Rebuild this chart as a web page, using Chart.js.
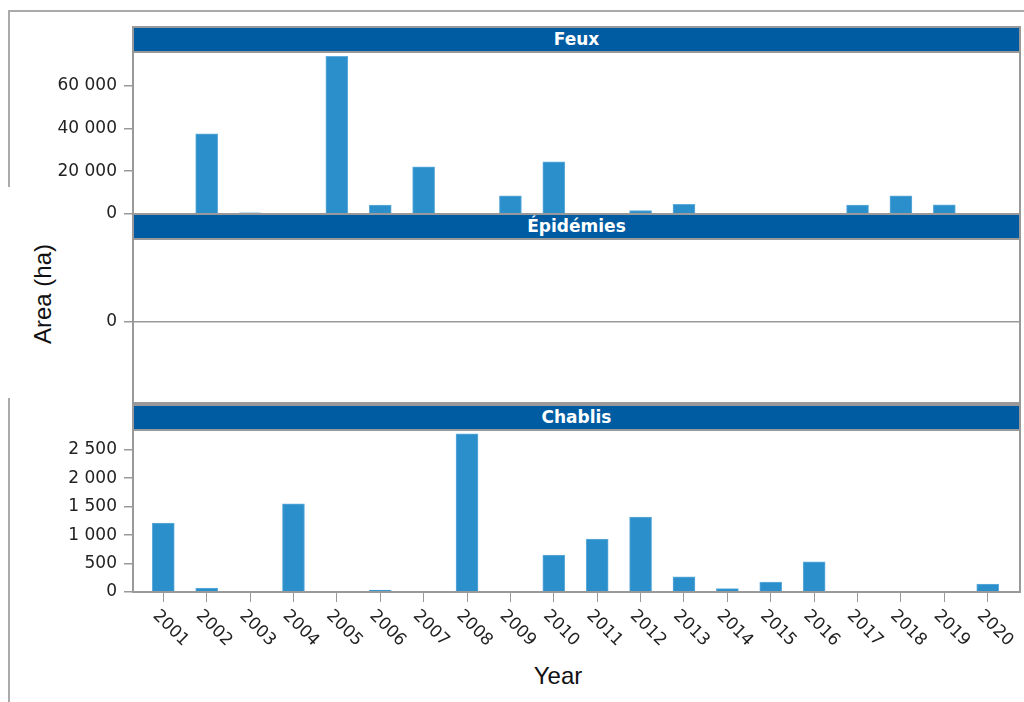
<!DOCTYPE html>
<html lang="fr">
<head>
<meta charset="utf-8">
<title>Area (ha) par année</title>
<script src="https://cdn.jsdelivr.net/npm/chart.js@4.4.1/dist/chart.umd.min.js"></script>
<style>
  body { margin: 0; background: #fff; }
  #wrap { position: relative; width: 1024px; height: 702px; overflow: hidden; font-family: "Liberation Sans", Arial, sans-serif; }
  canvas { position: absolute; left: 0; z-index: 1; }
  .frame { position: absolute; left: 132px; width: 889px; box-sizing: border-box; border: 2px solid #999; pointer-events: none; z-index: 2; }
  .frame .head { height: 23px; background: #005ca2; border-bottom: 2px solid #999; color: #fff;
    font: bold 17px "DejaVu Sans", sans-serif; text-align: center; line-height: 23px; }
  .line { position: absolute; background: #aaa; z-index: 0; }
  #ytitle { position: absolute; left: -17px; top: 279px; width: 120px; height: 30px; line-height: 30px;
    text-align: center; font-size: 24px; color: #111; transform: rotate(-90deg); }
  #xtitle { position: absolute; left: 458px; top: 664px; width: 200px; line-height: 24px;
    text-align: center; font-size: 24px; color: #111; }
</style>
</head>
<body>
<div id="wrap">
  <div class="line" style="left:8px; top:10px; width:1016px; height:1.5px;"></div>
  <div class="line" style="left:8px; top:10px; width:1.5px; height:177px;"></div>
  <div class="line" style="left:8px; top:398px; width:1.5px; height:304px;"></div>

  <canvas id="feuxChart" width="1024" height="198" style="top:34px"></canvas>
  <canvas id="epiChart" width="1024" height="198" style="top:223px"></canvas>
  <canvas id="chablisChart" width="1024" height="289" style="top:413px"></canvas>

  <div class="frame" style="top:26px; height:189px;"><div class="head">Feux</div></div>
  <div class="frame" style="top:213px; height:191px;"><div class="head">Épidémies</div></div>
  <div class="frame" style="top:404px; height:189px;"><div class="head">Chablis</div></div>

  <div id="ytitle">Area (ha)</div>
  <div id="xtitle">Year</div>
</div>
<script>
// data
const years = [2001, 2002, 2003, 2004, 2005, 2006, 2007, 2008, 2009, 2010,
               2011, 2012, 2013, 2014, 2015, 2016, 2017, 2018, 2019, 2020];
const feuxValues = [300, 37440, 600, 0, 73660, 4200, 22050, 0, 8530, 24380,
                    0, 1540, 4520, 0, 0, 0, 4200, 8530, 4340, 0];
const epidemiesValues = [0, 0, 0, 0, 0, 0, 0, 0, 0, 0,
                         0, 0, 0, 0, 0, 0, 0, 0, 0, 0];
const chablisValues = [1210, 70, 0, 1549, 0, 35, 10, 2782, 0, 649,
                       930, 1316, 268, 58, 175, 532, 0, 0, 0, 140];
const feuxTicks = [0, 20000, 40000, 60000];
const epidemiesTicks = [0];
const chablisTicks = [0, 500, 1000, 1500, 2000, 2500];

Chart.defaults.font.family = '"DejaVu Sans", sans-serif';
Chart.defaults.color = '#222';

const BAR_COLOR = '#2a8fca';
const GRID_COLOR = '#999';
const PAD = 18; // room Chart.js wants for the first/last y label

function fmt(v) {
    return String(v).replace(/\B(?=(\d{3})+(?!\d))/g, ' ');
}

// x labels in the reference turn clockwise, Chart.js only turns them the other way
const rotatedYearLabels = {
    id: 'rotatedYearLabels',
    afterDraw(chart) {
        const { ctx, chartArea, scales: { x } } = chart;
        ctx.save();
        ctx.font = '17px "DejaVu Sans"';
        ctx.fillStyle = '#222';
        ctx.textAlign = 'left';
        ctx.textBaseline = 'middle';
        years.forEach(yr => {
            const px = x.getPixelForValue(yr);
            ctx.save();
            ctx.translate(px - 8, chartArea.bottom + 21);
            ctx.rotate(Math.PI / 4);
            ctx.fillText(String(yr), 0, 0);
            ctx.restore();
        });
        ctx.restore();
    }
};

function makePanel(canvasId, values, ticks, yMin, yMax, opts) {
    const isBottom = !!opts.bottom;
    return new Chart(document.getElementById(canvasId), {
        type: 'bar',
        data: {
            datasets: [{
                data: years.map((yr, i) => ({ x: yr, y: values[i] })),
                backgroundColor: BAR_COLOR,
                borderColor: '#62acdc',
                borderWidth: 1,
                barThickness: 22
            }]
        },
        options: {
            responsive: false,
            animation: false,
            devicePixelRatio: 1,
            layout: { padding: { top: PAD, bottom: isBottom ? 0 : PAD, left: 0, right: 4 } },
            plugins: { legend: { display: false }, tooltip: { enabled: false } },
            scales: {
                x: {
                    type: 'linear',
                    display: isBottom,
                    offset: false,
                    min: 2000.302,
                    max: 2020.744,
                    afterBuildTicks: (scale) => { scale.ticks = years.map(v => ({ value: v })); },
                    afterFit: (scale) => { if (isBottom) scale.height = 110; },
                    ticks: { display: false },
                    grid: { offset: false, drawOnChartArea: false, drawTicks: true, tickLength: 10, color: GRID_COLOR },
                    border: { display: true, color: GRID_COLOR, width: 2 }
                },
                y: {
                    min: yMin,
                    max: yMax,
                    afterBuildTicks: (scale) => { scale.ticks = ticks.map(v => ({ value: v })); },
                    afterFit: (scale) => { scale.width = 133; },
                    ticks: { padding: 7, font: { size: 17 }, color: '#222', callback: (v) => fmt(v) },
                    grid: { drawOnChartArea: !!opts.zeroLine, drawTicks: true, tickLength: 9, color: GRID_COLOR, lineWidth: 1.5 },
                    border: { display: false }
                }
            }
        },
        plugins: isBottom ? [rotatedYearLabels] : []
    });
}

makePanel('feuxChart', feuxValues, feuxTicks, 0, 75700, {});
makePanel('epiChart', epidemiesValues, epidemiesTicks, -1, 1, { zeroLine: true });
makePanel('chablisChart', chablisValues, chablisTicks, 0, 2830, { bottom: true });
</script>
</body>
</html>
